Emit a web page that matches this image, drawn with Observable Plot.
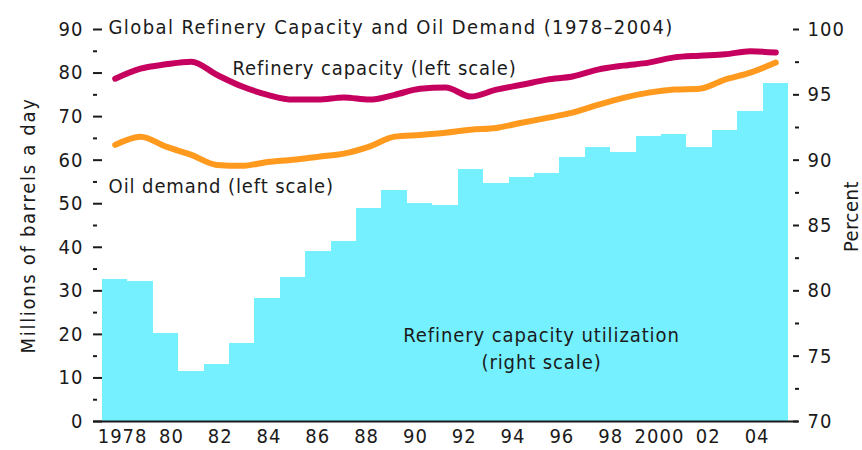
<!DOCTYPE html>
<html><head><meta charset="utf-8">
<script src="https://cdn.jsdelivr.net/npm/d3@7"></script>
<script src="https://cdn.jsdelivr.net/npm/@observablehq/plot@0.6"></script>
<style>
html,body{margin:0;padding:0;background:#fff;}
#chart svg{display:block;}
</style></head><body><div id="chart"></div>
<script>
const years = [1978,1979,1980,1981,1982,1983,1984,1985,1986,1987,1988,1989,1990,1991,1992,1993,1994,1995,1996,1997,1998,1999,2000,2001,2002,2003,2004];
// Refinery capacity utilization, percent (right scale)
const utilization = [80.9,80.7,76.7,73.8,74.4,76.0,79.4,81.0,83.0,83.8,86.3,87.7,86.7,86.5,89.3,88.2,88.7,89.0,90.2,91.0,90.6,91.8,92.0,91.0,92.3,93.7,95.9];
// Refinery capacity, million barrels a day (left scale)
const capacity = [78.7,81.0,82.0,82.6,79.6,76.9,75.0,73.9,73.9,74.4,73.9,75.0,76.4,76.7,74.6,76.2,77.3,78.5,79.2,80.8,81.7,82.4,83.6,84.0,84.3,85.0,84.7];
// Oil demand, million barrels a day (left scale)
const demand = [63.5,65.4,63.1,61.2,58.9,58.7,59.6,60.1,60.8,61.5,63.1,65.4,65.8,66.3,67.0,67.4,68.6,69.7,70.9,72.7,74.3,75.5,76.2,76.4,78.5,80.1,82.4];

const tickYears = [1978,1980,1982,1984,1986,1988,1990,1992,1994,1996,1998,2000,2002,2004];
const tickLabels = ["1978","80","82","84","86","88","90","92","94","96","98","2000","02","04"];
const leftTicks = [0,10,20,30,40,50,60,70,80,90];
const leftMinor = [5,15,25,35,45,55,65,75,85];
const rightTicks = [70,75,80,85,90,95,100];
const rightMinor = [72.5,77.5,82.5,87.5,92.5,97.5];

const title = "Global Refinery Capacity and Oil Demand (1978–2004)";
const leftLabel = "Millions of barrels a day";
const rightLabel = "Percent";
const notesStart = [
  {label: "Refinery capacity (left scale)", year: 1982.62, value: 81.0},
  {label: "Oil demand (left scale)", year: 1977.74, value: 54.0}
];
const notesMiddle = [
  {label: "Refinery capacity utilization", year: 1994.78, value: 19.7},
  {label: "(right scale)", year: 1994.78, value: 13.5}
];

// right scale (70–100 %) shares the plot height with left scale (0–90)
const toLeft = p => (p - 70) * 3;
const rows = years.map((year, i) => ({year, util: utilization[i], cap: capacity[i], dem: demand[i]}));
// the source's year labels sit on a slightly tighter spacing than the bars
const labelX = d => 1978.29 + (d - 1978) * 0.9605;

const font = "'DejaVu Sans Condensed','DejaVu Sans',sans-serif";
const ink = "#1a1a1a";
const fs = 20;

const chart = Plot.plot({
  width: 862, height: 450,
  marginLeft: 102, marginRight: 74, marginTop: 29, marginBottom: 29,
  style: {fontFamily: font, fontSize: fs + "px", color: ink, background: "#fff", overflow: "visible"},
  x: {domain: [1977.5, 2004.5], axis: null},
  y: {domain: [0, 90], axis: null},
  marks: [
    Plot.rect(rows, {x1: d => d.year - 0.5, x2: d => d.year + 0.5, y1: 0, y2: d => toLeft(d.util), fill: "#74F0FF", shapeRendering: "crispEdges"}),
    Plot.line(rows, {x: "year", y: "cap", stroke: "#C6005F", strokeWidth: 6, curve: "monotone-x"}),
    Plot.line(rows, {x: "year", y: "dem", stroke: "#FF9A1F", strokeWidth: 6, curve: "monotone-x"}),
    Plot.ruleY([0], {stroke: ink, strokeWidth: 2, insetLeft: -9, insetRight: -10}),
    Plot.axisY(leftTicks, {anchor: "left", tickSize: 9, tickPadding: 10, strokeWidth: 2, label: null, fontSize: fs, fill: ink}),
    Plot.axisY(leftMinor, {anchor: "left", tickSize: 4, dx: -5, strokeWidth: 2, tickFormat: () => "", label: null}),
    Plot.axisY(rightTicks.map(toLeft), {anchor: "right", tickSize: 6, dx: 4, tickPadding: 9, strokeWidth: 2, tickFormat: d => String(Math.round(70 + d / 3)), label: null, fontSize: fs, fill: ink}),
    Plot.axisY(rightMinor.map(toLeft), {anchor: "right", tickSize: 4, dx: 6, strokeWidth: 2, tickFormat: () => "", label: null}),
    Plot.text(tickYears, {x: labelX, text: (d, i) => tickLabels[i], frameAnchor: "bottom", lineAnchor: "top", dy: 7, fontSize: fs, fill: ink}),
    Plot.text([title], {frameAnchor: "top-left", textAnchor: "start", lineAnchor: "middle", dx: 6, dy: -2, fontSize: fs, fill: ink}),
    Plot.text(notesStart, {x: "year", y: "value", text: "label", textAnchor: "start", fontSize: fs, fill: ink}),
    Plot.text(notesMiddle, {x: "year", y: "value", text: "label", textAnchor: "middle", fontSize: fs, fill: ink}),
    Plot.text([leftLabel], {frameAnchor: "left", textAnchor: "middle", dx: -74, rotate: -90, fontSize: fs, fill: ink}),
    Plot.text([rightLabel], {frameAnchor: "right", textAnchor: "middle", dx: 63, dy: -9, rotate: -90, fontSize: fs, fill: ink})
  ]
});
// letter spacing to match the source's loosely set condensed type
const noteSet = new Set([...notesStart, ...notesMiddle].map(d => d.label));
const spacing = new Map([[title, 1.4], [leftLabel, 1.7], [rightLabel, 0.5]]);
chart.querySelectorAll("text").forEach(t => {
  const s = t.textContent;
  let ls = 1.0;
  if (spacing.has(s)) ls = spacing.get(s);
  else if (noteSet.has(s)) ls = 0.9;
  t.style.letterSpacing = ls + "px";
});
document.getElementById("chart").appendChild(chart);
</script></body></html>
